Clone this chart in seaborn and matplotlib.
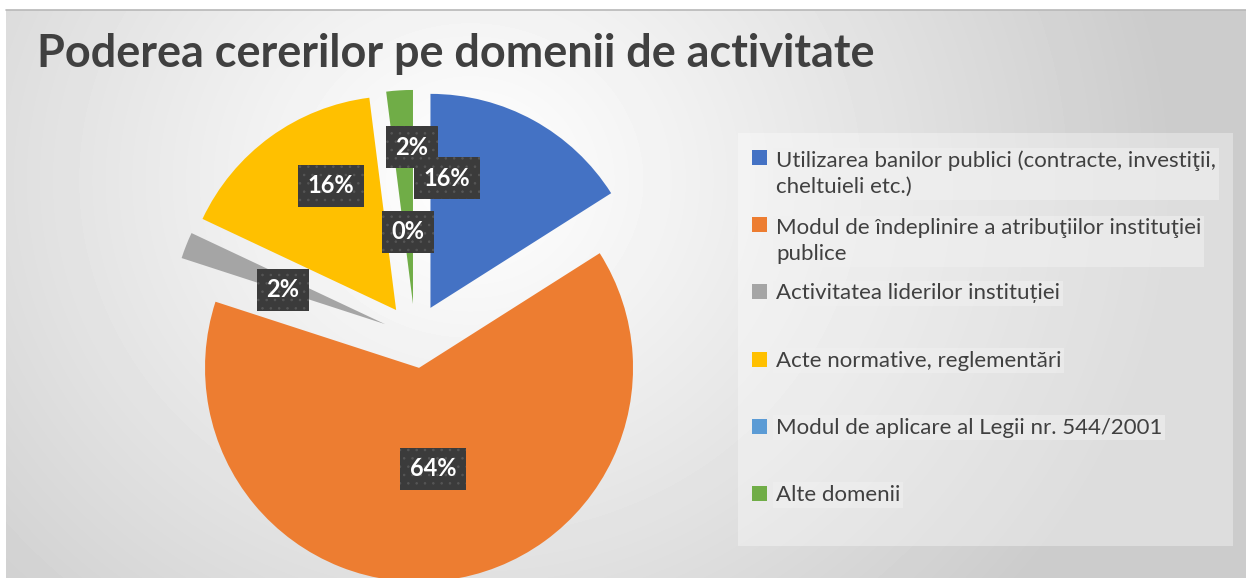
import numpy as np
import seaborn as sns
import matplotlib.pyplot as plt
from matplotlib.patches import Rectangle

sns.set_theme(style="white")
plt.rcParams['font.family'] = ['Lato', 'DejaVu Sans']
plt.rcParams['hatch.linewidth'] = 0.6

# data
categories = [
    "Utilizarea banilor publici (contracte, investiţii,\ncheltuieli etc.)",
    "Modul de îndeplinire a atribuţiilor instituţiei\npublice",
    "Activitatea liderilor instituției",
    "Acte normative, reglementări",
    "Modul de aplicare al Legii nr. 544/2001",
    "Alte domenii",
]
counts = [8, 32, 1, 8, 0, 1]
colors = ["#4472C4", "#ED7D31", "#A5A5A5", "#FFC000", "#5B9BD5", "#70AD47"]
title = "Poderea cererilor pe domenii de activitate"

# where the percentage boxes sit (pie radius units, pie centre = 0,0)
label_pos = [(0.150, 0.738), (0.084, -0.621), (-0.617, 0.215),
             (-0.393, 0.701), (-0.033, 0.486), (-0.014, 0.882)]

W, H = 1246, 578
fig = plt.figure(figsize=(W / 100, H / 100), dpi=100)
fig.patch.set_facecolor("white")

# soft radial grey background
ax_bg = fig.add_axes([6 / W, 0, 1 - 6 / W, (H - 10) / H])
yy, xx = np.mgrid[0:H - 10, 6:W]
d = np.hypot(xx - 470, (yy + 10 - 180) * 1.1) / 700
shade = 1 - 0.2 * np.clip(d, 0, 1) ** 1.1
ax_bg.imshow(shade, cmap="gray", vmin=0, vmax=1, aspect="auto",
             interpolation="bilinear")
ax_bg.axis("off")
fig.add_artist(plt.Line2D([6 / W, 1], [(H - 10) / H] * 2, color="#b8b8b8",
                          lw=1.2, transform=fig.transFigure))

# pie
ax = fig.add_axes([0, 0, 1, 1])
ax.patch.set_alpha(0)
wedges, texts, autotexts = ax.pie(
    counts, colors=colors, startangle=90, counterclock=False,
    explode=[0.15] * len(counts), radius=1,
    autopct=lambda p: f"{p:.0f}%",
    wedgeprops=dict(linewidth=0),
    textprops=dict(color="white", fontsize=17, fontweight="bold"),
)
for t, pos in zip(autotexts, label_pos):
    t.set_position(pos)
    t.set_bbox(dict(boxstyle="square,pad=0.4", facecolor="#3b3b3b",
                    edgecolor="#565656", linewidth=0, hatch=".."))
cx, cy, r = 415, 336, 214
ax.set_aspect("auto")
ax.set_xlim(-cx / r, (W - cx) / r)
ax.set_ylim(-(H - cy) / r, cy / r)
ax.axis("off")

# title
fig.text(37 / W, 1 - 67 / H, title, fontsize=32.4, fontweight="bold",
         color="#404040", va="baseline", ha="left")

# legend panel
fig.add_artist(Rectangle((738 / W, 1 - 546 / H), (1233 - 738) / W, (546 - 133) / H,
                         transform=fig.transFigure, facecolor="white",
                         alpha=0.35, edgecolor="none"))
line_step = 28
for i, (lab, col) in enumerate(zip(categories, colors)):
    base = 165 + 67.2 * i
    fig.add_artist(Rectangle((752 / W, 1 - base / H), 15 / W, 15 / H,
                             transform=fig.transFigure, facecolor=col,
                             edgecolor="none"))
    last = base + line_step * lab.count("\n")
    fig.text(776 / W, 1 - last / H, lab, fontsize=16, color="#404040",
             va="baseline", ha="left", linespacing=1.37,
             bbox=dict(boxstyle="square,pad=0.12", facecolor="#f0f0f0",
                       edgecolor="none", alpha=0.6))

fig.savefig("out.png", dpi=100)
